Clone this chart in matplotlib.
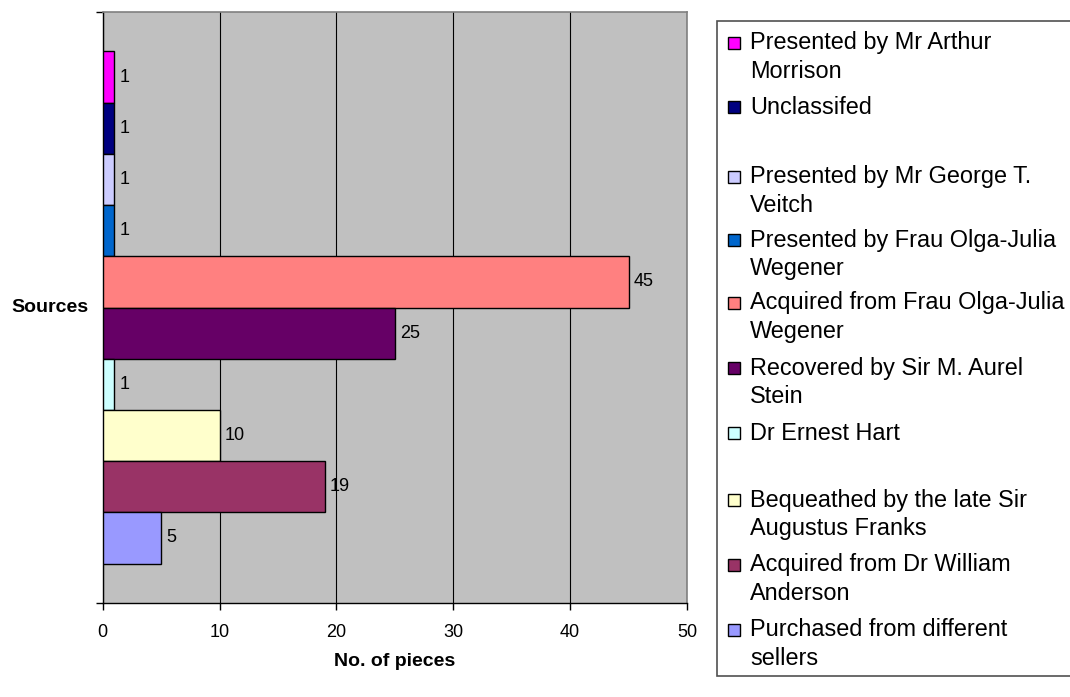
import matplotlib.pyplot as plt
from matplotlib.patches import Rectangle

plt.rcParams['font.family'] = ['Liberation Sans', 'DejaVu Sans']

# Sources, listed top to bottom as they appear in the key
sources = [
    "Presented by Mr Arthur\nMorrison",
    "Unclassifed",
    "Presented by Mr George T.\nVeitch",
    "Presented by Frau Olga-Julia\nWegener",
    "Acquired from Frau Olga-Julia\nWegener",
    "Recovered by Sir M. Aurel\nStein",
    "Dr Ernest Hart",
    "Bequeathed by the late Sir\nAugustus Franks",
    "Acquired from Dr William\nAnderson",
    "Purchased from different\nsellers",
]
pieces = [1, 1, 1, 1, 45, 25, 1, 10, 19, 5]
colors = ['#FF00FF', '#000080', '#CCCCFF', '#0066CC', '#FF8080',
          '#660066', '#CCFFFF', '#FFFFCC', '#993366', '#9999FF']
x_ticks = [0, 10, 20, 30, 40, 50]

W, H = 1070, 697
fig = plt.figure(figsize=(W / 100, H / 100), dpi=100)
ax = fig.add_axes([102.7 / W, 1 - 603 / H, 584.3 / W, 591 / H])
ax.set_facecolor('#C0C0C0')

n = len(pieces)
ypos = [n - 1 - i for i in range(n)]
ax.barh(ypos, pieces, height=1.0, color=colors, edgecolor='black',
        linewidth=1.0, zorder=3)

for y, v in zip(ypos, pieces):
    ax.annotate(str(v), (v, y), xytext=(3.5, 0), textcoords='offset points',
                ha='left', va='center', fontsize=13, zorder=4)

gap = 0.77
ax.set_ylim(-0.5 - gap, n - 0.5 + gap)
ax.set_xlim(0, 50)
ax.set_xticks(x_ticks)
ax.set_xticklabels([str(t) for t in x_ticks], fontsize=13)
ax.set_yticks([-0.5 - gap, n - 0.5 + gap])
ax.set_yticklabels(['', ''])
ax.tick_params(axis='both', direction='out', length=5, width=1, color='black')
ax.tick_params(axis='x', pad=10)

ax.grid(axis='x', color='black', linewidth=0.8, zorder=1)
ax.set_axisbelow(True)

for side in ['top', 'right']:
    ax.spines[side].set_color('#808080')
    ax.spines[side].set_linewidth(1.2)
for side in ['left', 'bottom']:
    ax.spines[side].set_color('black')
    ax.spines[side].set_linewidth(1.0)

ax.set_xlabel('No. of pieces', fontsize=14, fontweight='bold')
ax.xaxis.set_label_coords(0.5, (603 - 662) / 591)
ax.xaxis.label.set_va('center')
ax.set_ylabel('Sources', fontsize=14, fontweight='bold', rotation=0,
              ha='right', va='center')
ax.yaxis.set_label_coords((88 - 102.7) / 584.3, 0.5)

# key box drawn by hand, entries stacked with a fixed step
fig.patches.append(Rectangle((717 / W, 1 - 676 / H), (W + 10 - 717) / W,
                             (676 - 21) / H, transform=fig.transFigure,
                             facecolor='white', edgecolor='#505050',
                             linewidth=1.2, zorder=0))
entry_y = [43, 107, 177, 240, 303, 368, 433, 500, 565, 630]
line_step = 28.5
for label, c, y0 in zip(sources, colors, entry_y):
    fig.patches.append(Rectangle((728 / W, 1 - (y0 + 6) / H), 12 / W, 12 / H,
                                 transform=fig.transFigure, facecolor=c,
                                 edgecolor='black', linewidth=1.0, zorder=2))
    for k, line in enumerate(label.split('\n')):
        fig.text(750 / W, 1 - (y0 + k * line_step) / H, line, fontsize=16.9,
                 ha='left', va='center')

fig.savefig('out.png', dpi=100)
